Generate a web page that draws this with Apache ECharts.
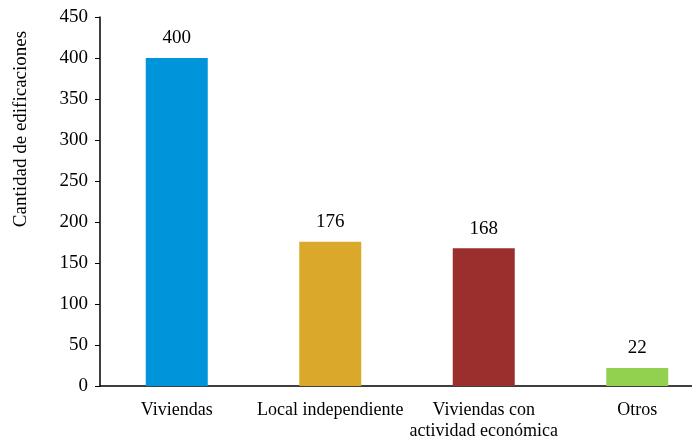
<!DOCTYPE html>
<html>
<head>
<meta charset="utf-8">
<script src="https://cdn.jsdelivr.net/npm/echarts@6/dist/echarts.min.js"></script>
<style>
    html, body { margin: 0; padding: 0; background: #fff; }
    .chart { width: 692px; height: 438px; }
</style>
</head>
<body>
<div class="chart"></div>
<script>
// datos
const categorias = ['Viviendas', 'Local independiente', 'Viviendas con\nactividad económica', 'Otros']
const valores = [400, 176, 168, 22]
const colores = ['#0095da', '#daa92b', '#9b2f2d', '#92d050']

;(function () {
    const myChart = echarts.init(document.querySelector('.chart'))
    const fuente = '"Liberation Serif", "Times New Roman", serif'
    const option = {
        animation: false,
        textStyle: { fontFamily: fuente },
        grid: {
            left: 100,
            width: 614,
            top: 17,
            bottom: 52,
            outerBoundsMode: 'none'
        },
        graphic: [
            {
                type: 'text',
                x: 21,
                y: 129,
                rotation: Math.PI / 2,
                style: {
                    text: 'Cantidad de edificaciones',
                    fontFamily: fuente,
                    fontSize: 19,
                    fill: '#000',
                    align: 'center',
                    verticalAlign: 'middle'
                }
            }
        ],
        xAxis: {
            type: 'category',
            data: categorias,
            axisLine: { lineStyle: { color: '#000', width: 1.5 } },
            axisTick: { show: false },
            axisLabel: {
                interval: 0,
                color: '#000',
                fontSize: 18,
                fontFamily: fuente,
                margin: 14,
                lineHeight: 21
            }
        },
        yAxis: {
            type: 'value',
            min: 0,
            max: 450,
            interval: 50,
            splitLine: { show: false },
            axisLine: { show: true, lineStyle: { color: '#000', width: 1.5 } },
            axisTick: { show: true, inside: false, length: 5, lineStyle: { color: '#000' } },
            axisLabel: {
                color: '#000',
                fontSize: 19,
                fontFamily: fuente,
                margin: 12
            }
        },
        series: [
            {
                type: 'bar',
                barWidth: 62,
                data: valores.map((v, i) => ({ value: v, itemStyle: { color: colores[i] } })),
                label: {
                    show: true,
                    position: 'top',
                    distance: 10,
                    color: '#000',
                    fontSize: 19,
                    fontFamily: fuente
                }
            }
        ]
    }
    myChart.setOption(option)
})()
</script>
</body>
</html>
